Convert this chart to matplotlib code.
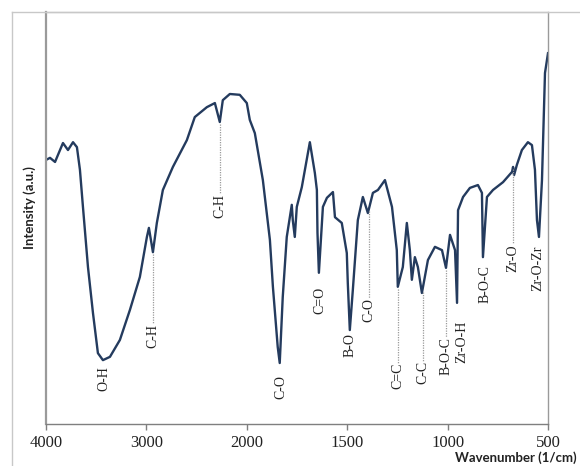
import numpy as np
import matplotlib
matplotlib.use("Agg")
import matplotlib.pyplot as plt
from matplotlib.lines import Line2D

# FTIR spectrum (wavenumber in 1/cm, intensity in a.u.)
wavenumber = [4000, 3960, 3910, 3881, 3831, 3781, 3731, 3692, 3662, 3632,
              3582, 3532, 3483, 3433, 3363, 3264, 3164, 3065, 2995, 2975,
              2935, 2896, 2836, 2736, 2597, 2518, 2398, 2318, 2269, 2239,
              2169, 2070, 2000, 1985, 1960, 1920, 1885, 1870, 1846, 1836,
              1821, 1801, 1776, 1771, 1761, 1751, 1726, 1686, 1661, 1651,
              1648, 1641, 1621, 1601, 1571, 1561, 1527, 1502, 1497, 1487,
              1472, 1447, 1422, 1397, 1372, 1347, 1312, 1277, 1253, 1248,
              1223, 1203, 1188, 1178, 1163, 1148, 1128, 1098, 1063, 1028,
              1008, 988, 963, 953, 948, 923, 889, 849, 829, 824,
              804, 774, 724, 679, 674, 669, 655, 630, 600, 580,
              565, 555, 545, 530, 515, 500]
intensity = [64.1, 64.6, 63.6, 65.3, 68.2, 66.5, 68.4, 67.2, 61.7, 52.7,
             38.1, 26.9, 17.2, 15.5, 16.3, 20.4, 27.7, 35.7, 45.4, 47.6,
             41.7, 48.8, 56.8, 62.4, 68.9, 74.5, 76.9, 77.9, 73.3, 78.6,
             80.1, 79.9, 77.9, 73.8, 70.6, 59.2, 44.7, 33.3, 18.7, 14.8,
             30.8, 45.4, 53.2, 49.5, 45.4, 52.7, 57.5, 68.4, 60.9, 56.8,
             46.4, 36.7, 52.7, 54.9, 56.3, 50.2, 48.8, 41.5, 34.2, 22.8,
             32.5, 49.5, 55.1, 51.2, 56.1, 56.8, 59.2, 52.7, 42.2, 33.3,
             38.1, 48.8, 42.2, 35.0, 40.5, 38.1, 31.8, 39.8, 43.0, 42.2,
             37.9, 45.9, 42.2, 29.4, 51.9, 55.1, 57.3, 58.0, 56.1, 40.5,
             55.1, 56.8, 58.7, 61.2, 62.4, 60.4, 62.9, 66.5, 68.4, 67.7,
             61.7, 49.5, 45.4, 59.2, 85.2, 90.0]

# band assignments
band_wn = [3423, 2935, 2269, 1831, 1636, 1487, 1392, 1248, 1125, 1008,
           929, 814, 674, 550]
band_names = ["O-H", "C-H", "C-H", "C-O", "C=O", "B-O", "C-O", "C=C", "C-C",
              "B-O-C", "Zr-O-H", "B-O-C", "Zr-O", "Zr-O-Zr"]
band_label_y = [14.1, 24.3, 55.8, 11.9, 33.3, 22.1, 30.6, 14.8, 15.3, 21.1,
                25.2, 38.6, 43.7, 43.4]
band_leader = [False, True, True, False, False, False, True, True, True, True,
               False, False, True, False]

xticks = [4000, 3000, 2000, 1500, 1000, 500]


def fwd(w):
    # half scale above 2000 1/cm, as on the original instrument plot
    w = np.asarray(w, dtype=float)
    return np.where(w > 2000, 2000 + (w - 2000) / 2, w)


def inv(u):
    u = np.asarray(u, dtype=float)
    return np.where(u > 2000, 2000 + (u - 2000) * 2, u)


fig = plt.figure(figsize=(5.8, 4.66), dpi=100)
ax = fig.add_axes([46 / 580, 42 / 466, 502 / 580, 412 / 466])

ax.set_xscale("function", functions=(fwd, inv))
ax.plot(wavenumber, intensity, color="#243B5E", lw=1.7, solid_joinstyle="round")

wn_inc = np.array(wavenumber[::-1], dtype=float)
it_inc = np.array(intensity[::-1], dtype=float)
for wn, name, ly, lead in zip(band_wn, band_names, band_label_y, band_leader):
    if lead:
        y0 = np.interp(wn, wn_inc, it_inc)
        ax.plot([wn, wn], [y0 - 0.5, ly], color="#9a9a9a", lw=0.9,
                ls=(0, (1, 1)))
    ax.text(wn, ly, name, rotation=90, ha="center", va="top",
            family="Liberation Serif", fontsize=10, color="#222222")

ax.set_xlim(4000, 500)
ax.set_ylim(0, 100)
ax.set_xticks(xticks)
ax.set_xticklabels([str(t) for t in xticks], family="Liberation Serif",
                   fontsize=12, color="#222222")
ax.tick_params(axis="x", length=4, width=1, color="#7f7f7f", pad=4)
ax.set_yticks([])

ax.spines["left"].set_color("#9a9a9a")
ax.spines["left"].set_linewidth(1.6)
ax.spines["bottom"].set_color("#7f7f7f")
ax.spines["bottom"].set_linewidth(1.0)
ax.spines["right"].set_color("#9a9a9a")
ax.spines["right"].set_linewidth(1.0)
ax.spines["top"].set_color("#c8c8c8")
ax.spines["top"].set_linewidth(1.0)

# outer chart frame (clipped by the image edges like the original)
fig.add_artist(Line2D([12 / 580, 1], [454 / 466, 454 / 466],
                      color="#c8c8c8", lw=1.0))
fig.add_artist(Line2D([12 / 580, 12 / 580], [0, 454 / 466],
                      color="#c8c8c8", lw=1.0))

fig.text(30 / 580, 1 - 208 / 466, "Intensity (a.u.)", rotation=90,
         ha="center", va="center", family="Lato", fontweight="bold",
         fontsize=9.5, color="#222222")
fig.text(577 / 580, 1.5 / 466, "Wavenumber (1/cm)", ha="right",
         va="bottom", family="Lato", fontweight="bold", fontsize=9.5,
         color="#222222")

fig.savefig("out.png", dpi=100)
plt.close(fig)
